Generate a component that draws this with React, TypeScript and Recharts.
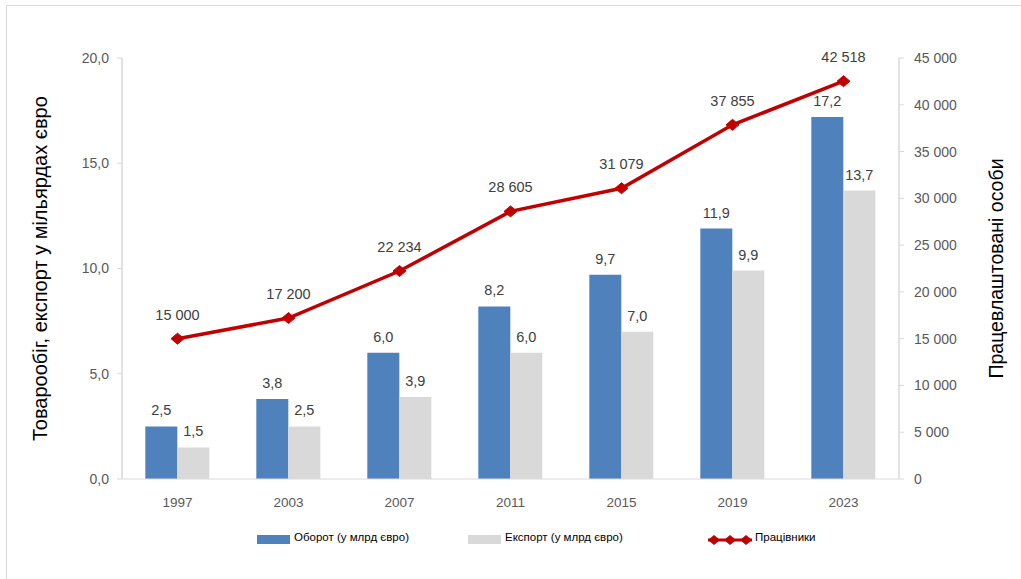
import React from "react";
import {
  ComposedChart,
  Bar,
  Line,
  XAxis,
  YAxis,
  LabelList,
  Legend,
} from "recharts";

const years = ["1997", "2003", "2007", "2011", "2015", "2019", "2023"];
const turnover = [2.5, 3.8, 6.0, 8.2, 9.7, 11.9, 17.2];
const exportVals = [1.5, 2.5, 3.9, 6.0, 7.0, 9.9, 13.7];
const workers = [15000, 17200, 22234, 28605, 31079, 37855, 42518];
const leftTicks = [0, 5, 10, 15, 20];
const rightTicks = [0, 5000, 10000, 15000, 20000, 25000, 30000, 35000, 40000, 45000];

const data = years.map((y, i) => ({
  year: y,
  turnover: turnover[i],
  exp: exportVals[i],
  workers: workers[i],
}));

const FONT = "'Liberation Sans', Arial, sans-serif";
const BLUE = "#4F81BD";
const GREY = "#D9D9D9";
const RED = "#C00000";
const TICKC = "#595959";

const fmtDec = (v: any) => Number(v).toFixed(1).replace(".", ",");
const fmtThousand = (v: any) =>
  String(Math.round(Number(v))).replace(/\B(?=(\d{3})+(?!\d))/g, " ");

const Diamond = (props: any) => {
  const { cx, cy } = props;
  if (cx == null || cy == null) return null;
  const w = 6.5;
  const h = 5.5;
  return (
    <path
      d={`M${cx - w},${cy} L${cx},${cy - h} L${cx + w},${cy} L${cx},${cy + h} Z`}
      fill={RED}
      stroke={RED}
    />
  );
};

const LegendContent = () => (
  <div style={{ position: "relative", width: 1021, height: 20, fontFamily: FONT, fontSize: 11.5, color: "#000" }}>
    <div style={{ position: "absolute", left: 257, top: 5, width: 33, height: 9, background: BLUE }} />
    <div style={{ position: "absolute", left: 294, top: 1 }}>Оборот (у млрд євро)</div>
    <div style={{ position: "absolute", left: 468, top: 5, width: 33, height: 9, background: GREY }} />
    <div style={{ position: "absolute", left: 505, top: 1 }}>Експорт (у млрд євро)</div>
    <svg style={{ position: "absolute", left: 705, top: 2 }} width={50} height={16}>
      <line x1={3} y1={8} x2={47} y2={8} stroke={RED} strokeWidth={3} />
      <path d="M3,8 L9,3 L15,8 L9,13 Z" fill={RED} />
      <path d="M19,8 L25,3 L31,8 L25,13 Z" fill={RED} />
      <path d="M35,8 L41,3 L47,8 L41,13 Z" fill={RED} />
    </svg>
    <div style={{ position: "absolute", left: 755, top: 1 }}>Працівники</div>
  </div>
);

export default function App() {
  return (
    <div style={{ position: "absolute", left: 0, top: 0, width: 1021, height: 579, background: "#fff", overflow: "hidden" }}>
      <div style={{ position: "absolute", left: 6, top: 5, width: 1100, height: 700, border: "1px solid #D9D9D9" }} />
      <ComposedChart
        width={1021}
        height={579}
        data={data}
        margin={{ top: 58, right: 0, bottom: 50, left: 0 }}
        barCategoryGap="21%"
        barGap={0}
        style={{ fontFamily: FONT }}
      >
        <XAxis
          dataKey="year"
          tickLine={false}
          axisLine={{ stroke: GREY, strokeWidth: 1 }}
          tick={{ fill: TICKC, fontSize: 13.5, fontFamily: FONT }}
          tickMargin={12}
          height={30}
          interval={0}
        />
        <YAxis
          yAxisId="left"
          orientation="left"
          width={122}
          domain={[0, 20]}
          ticks={leftTicks}
          tickFormatter={fmtDec}
          axisLine={{ stroke: GREY, strokeWidth: 1.5 }}
          tickLine={{ stroke: GREY }}
          tickSize={5}
          tickMargin={8}
          tick={{ fill: TICKC, fontSize: 14, fontFamily: FONT }}
          label={{
            value: "Товарообіг, експорт у мільярдах євро",
            angle: -90,
            position: "insideLeft",
            offset: 0,
            dx: 40,
            style: { textAnchor: "middle", fill: "#000", fontSize: 20, fontFamily: FONT },
          }}
        />
        <YAxis
          yAxisId="right"
          orientation="right"
          width={122}
          domain={[0, 45000]}
          ticks={rightTicks}
          tickFormatter={fmtThousand}
          axisLine={{ stroke: GREY, strokeWidth: 1.5 }}
          tickLine={{ stroke: GREY }}
          tickSize={5}
          tickMargin={10}
          tick={{ fill: TICKC, fontSize: 14, fontFamily: FONT }}
          label={{
            value: "Працевлаштовані особи",
            angle: -90,
            position: "insideRight",
            offset: 0,
            dx: -25,
            style: { textAnchor: "middle", fill: "#000", fontSize: 19.5, fontFamily: FONT },
          }}
        />
        <Legend
          verticalAlign="bottom"
          align="left"
          content={<LegendContent />}
          wrapperStyle={{ position: "absolute", left: 0, top: 530, width: 1021 }}
        />
        <Bar yAxisId="left" dataKey="turnover" fill={BLUE} isAnimationActive={false}>
          <LabelList
            dataKey="turnover"
            position="top"
            offset={11}
            formatter={fmtDec}
            style={{ fill: "#404040", fontSize: 14.5, fontFamily: FONT }}
          />
        </Bar>
        <Bar yAxisId="left" dataKey="exp" fill={GREY} isAnimationActive={false}>
          <LabelList
            dataKey="exp"
            position="top"
            offset={11}
            formatter={fmtDec}
            style={{ fill: "#404040", fontSize: 14.5, fontFamily: FONT }}
          />
        </Bar>
        <Line
          yAxisId="right"
          dataKey="workers"
          stroke={RED}
          strokeWidth={3.5}
          dot={<Diamond />}
          activeDot={false}
          isAnimationActive={false}
        >
          <LabelList
            dataKey="workers"
            position="top"
            offset={19}
            formatter={fmtThousand}
            style={{ fill: "#404040", fontSize: 14.5, fontFamily: FONT }}
          />
        </Line>
      </ComposedChart>
    </div>
  );
}
